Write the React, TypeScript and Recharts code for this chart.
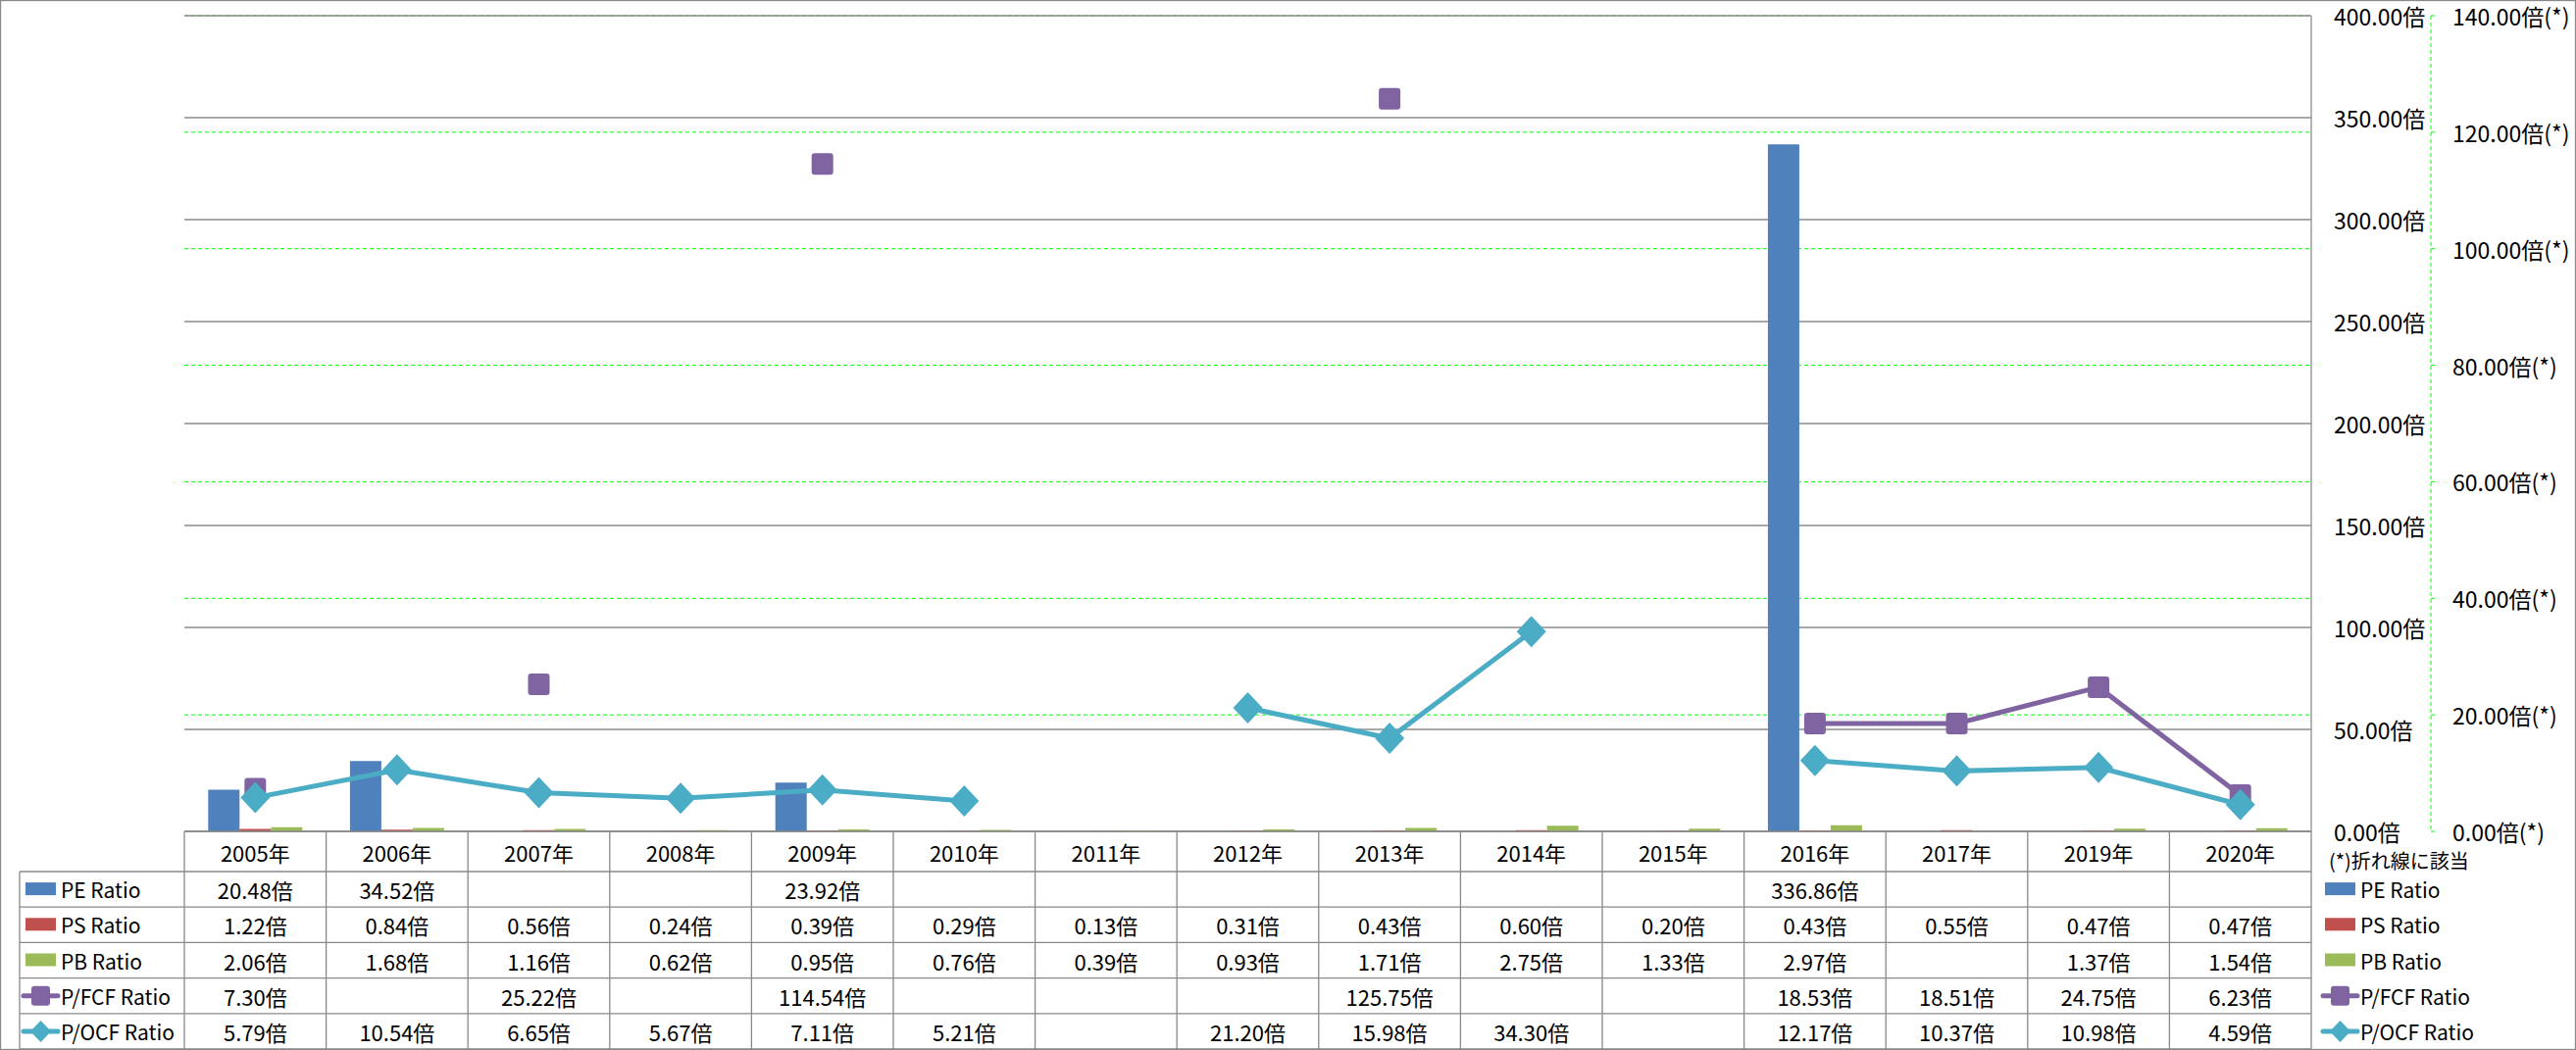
import { ComposedChart, Bar, Line, XAxis, YAxis, CartesianGrid } from "recharts";

const categories = [
  "2005年", "2006年", "2007年", "2008年", "2009年", "2010年", "2011年", "2012年",
  "2013年", "2014年", "2015年", "2016年", "2017年", "2019年", "2020年",
];
const peRatio = [20.48, 34.52, null, null, 23.92, null, null, null, null, null, null, 336.86, null, null, null];
const psRatio = [1.22, 0.84, 0.56, 0.24, 0.39, 0.29, 0.13, 0.31, 0.43, 0.6, 0.2, 0.43, 0.55, 0.47, 0.47];
const pbRatio = [2.06, 1.68, 1.16, 0.62, 0.95, 0.76, 0.39, 0.93, 1.71, 2.75, 1.33, 2.97, null, 1.37, 1.54];
const pfcfRatio = [7.3, null, 25.22, null, 114.54, null, null, null, 125.75, null, null, 18.53, 18.51, 24.75, 6.23];
const pocfRatio = [5.79, 10.54, 6.65, 5.67, 7.11, 5.21, null, 21.2, 15.98, 34.3, null, 12.17, 10.37, 10.98, 4.59];

const primaryTicks = [0, 50, 100, 150, 200, 250, 300, 350, 400];
const secondaryTicks = [0, 20, 40, 60, 80, 100, 120, 140];

const series = [
  { key: "pe", name: "PE Ratio", color: "#4F81BD", kind: "bar", values: peRatio },
  { key: "ps", name: "PS Ratio", color: "#C0504D", kind: "bar", values: psRatio },
  { key: "pb", name: "PB Ratio", color: "#9BBB59", kind: "bar", values: pbRatio },
  { key: "pfcf", name: "P/FCF Ratio", color: "#8064A2", kind: "square", values: pfcfRatio },
  { key: "pocf", name: "P/OCF Ratio", color: "#4BACC6", kind: "diamond", values: pocfRatio },
];

const data = categories.map((year, i) => ({
  year,
  pe: peRatio[i],
  ps: psRatio[i],
  pb: pbRatio[i],
  pfcf: pfcfRatio[i],
  pocf: pocfRatio[i],
}));

// layout
const W = 2627;
const H = 1071;
const PLOT_L = 188;
const PLOT_R = 2357;
const PLOT_T = 16;
const PLOT_B = 848;
const AXIS1_W = 122;
const AXIS2_W = W - PLOT_R - AXIS1_W;
const COL_W = (PLOT_R - PLOT_L) / categories.length;
const HEAD_B = 889;
const ROW_H = 36.2;
const TABLE_B = HEAD_B + ROW_H * series.length;
const TABLE_L = 20;
const BORDER = "#898989";
const FONT = "'Noto Sans CJK JP', 'Noto Sans', sans-serif";

const fmt = (v: number) => `${v.toFixed(2)}倍`;
const rowMid = (r: number) => HEAD_B + ROW_H * r + ROW_H / 2;

function TableTick(props: any) {
  const { x, payload } = props;
  let i = payload?.index;
  if (i == null) i = categories.indexOf(payload.value);
  const left = x - COL_W / 2;
  return (
    <g>
      <line x1={left} y1={PLOT_B} x2={left} y2={TABLE_B} stroke={BORDER} strokeWidth={1.3} />
      {i === categories.length - 1 && (
        <line x1={left + COL_W} y1={PLOT_B} x2={left + COL_W} y2={TABLE_B} stroke={BORDER} strokeWidth={1.3} />
      )}
      <text x={x} y={869} textAnchor="middle" dominantBaseline="central" fontSize={22} fontFamily={FONT} fill="#000">
        {payload.value}
      </text>
      {series.map((s, r) => {
        const v = s.values[i];
        if (v == null) return null;
        return (
          <text key={s.key} x={x} y={rowMid(r)} textAnchor="middle" dominantBaseline="central" fontSize={22} fontFamily={FONT} fill="#000">
            {fmt(v)}
          </text>
        );
      })}
    </g>
  );
}

function PrimaryTick(props: any) {
  const { y, payload } = props;
  return (
    <text x={PLOT_R + 23} y={y} dominantBaseline="central" fontSize={23} fontFamily={FONT} fill="#000">
      {fmt(payload.value)}
    </text>
  );
}

function SecondaryTick(props: any) {
  const { y, payload } = props;
  return (
    <text x={PLOT_R + AXIS1_W + 22} y={y} dominantBaseline="central" fontSize={23} fontFamily={FONT} fill="#000">
      {fmt(payload.value)}(*)
    </text>
  );
}

function SquareDot(props: any) {
  const { cx, cy, value } = props;
  if (value == null || cx == null || cy == null) return null;
  return <rect key={`sq-${cx}`} x={cx - 11} y={cy - 11} width={22} height={22} rx={3} fill="#8064A2" />;
}

function DiamondDot(props: any) {
  const { cx, cy, value } = props;
  if (value == null || cx == null || cy == null) return null;
  return (
    <path
      key={`dm-${cx}`}
      d={`M${cx},${cy - 16} L${cx + 15},${cy} L${cx},${cy + 16} L${cx - 15},${cy} Z`}
      fill="#4BACC6"
    />
  );
}

function LegendKey({ x, y, s }: { x: number; y: number; s: (typeof series)[number] }) {
  if (s.kind === "bar") return <rect x={x} y={y - 7} width={31} height={13} fill={s.color} />;
  return (
    <g>
      <line x1={x - 2} y1={y} x2={x + 33} y2={y} stroke={s.color} strokeWidth={5} strokeLinecap="round" />
      {s.kind === "square" ? (
        <rect x={x + 6} y={y - 10} width={19} height={20} rx={3} fill={s.color} />
      ) : (
        <path d={`M${x + 15.5},${y - 11} L${x + 26},${y} L${x + 15.5},${y + 11} L${x + 5},${y} Z`} fill={s.color} />
      )}
    </g>
  );
}

function Overlay() {
  const rowLines = series.map((_, r) => HEAD_B + ROW_H * r).concat([TABLE_B]);
  return (
    <svg width={W} height={H} style={{ position: "absolute", left: 0, top: 0, pointerEvents: "none" }}>
      <rect x={0.5} y={0.5} width={W - 1} height={H - 1} fill="none" stroke={BORDER} strokeWidth={1.3} />
      {rowLines.map((y) => (
        <line key={y} x1={TABLE_L} y1={y} x2={PLOT_R} y2={y} stroke={BORDER} strokeWidth={1.3} />
      ))}
      <line x1={TABLE_L} y1={HEAD_B} x2={TABLE_L} y2={TABLE_B} stroke={BORDER} strokeWidth={1.3} />
      {series.map((s, r) => (
        <g key={s.key}>
          <LegendKey x={26} y={rowMid(r)} s={s} />
          <text x={62} y={rowMid(r)} dominantBaseline="central" fontSize={21} fontFamily={FONT} fill="#000">
            {s.name}
          </text>
          <LegendKey x={2371} y={rowMid(r)} s={s} />
          <text x={2407} y={rowMid(r)} dominantBaseline="central" fontSize={21} fontFamily={FONT} fill="#000">
            {s.name}
          </text>
        </g>
      ))}
      <text x={2375} y={877} dominantBaseline="central" fontSize={20} fontFamily={FONT} fill="#000">
        (*)折れ線に該当
      </text>
    </svg>
  );
}

export default function App() {
  return (
    <div style={{ position: "relative", width: W, height: H, background: "#fff" }}>
      <style>{`body{margin:0}`}</style>
      <ComposedChart
        width={W}
        height={H}
        data={data}
        margin={{ top: PLOT_T, right: 0, bottom: 0, left: PLOT_L }}
        barGap={0}
        barCategoryGap="16.8%"
      >
        <CartesianGrid yAxisId="right" vertical={false} stroke="#00FF00" strokeDasharray="4 3" />
        <CartesianGrid yAxisId="left" vertical={false} stroke="#8c8c8c" strokeWidth={1.3} />
        <XAxis
          dataKey="year"
          interval={0}
          height={H - PLOT_B}
          axisLine={{ stroke: BORDER, strokeWidth: 1.3 }}
          tickLine={false}
          tick={(p: any) => <TableTick {...p} />}
        />
        <YAxis
          yAxisId="left"
          orientation="right"
          domain={[0, 400]}
          ticks={primaryTicks}
          interval={0}
          width={AXIS1_W}
          axisLine={{ stroke: "#8c8c8c", strokeWidth: 1.3 }}
          tickLine={false}
          tick={(p: any) => <PrimaryTick {...p} />}
        />
        <YAxis
          yAxisId="right"
          orientation="right"
          domain={[0, 140]}
          ticks={secondaryTicks}
          interval={0}
          width={AXIS2_W}
          axisLine={{ stroke: "#00FF00", strokeDasharray: "4 3" }}
          tickLine={{ stroke: "#00FF00" }}
          tickSize={4}
          tick={(p: any) => <SecondaryTick {...p} />}
        />
        <Bar yAxisId="left" dataKey="pe" name="PE Ratio" fill="#4F81BD" isAnimationActive={false} />
        <Bar yAxisId="left" dataKey="ps" name="PS Ratio" fill="#C0504D" isAnimationActive={false} />
        <Bar yAxisId="left" dataKey="pb" name="PB Ratio" fill="#9BBB59" isAnimationActive={false} />
        <Line
          yAxisId="right"
          dataKey="pfcf"
          name="P/FCF Ratio"
          stroke="#8064A2"
          strokeWidth={5}
          dot={(p: any) => <SquareDot key={p.index} {...p} />}
          activeDot={false}
          isAnimationActive={false}
        />
        <Line
          yAxisId="right"
          dataKey="pocf"
          name="P/OCF Ratio"
          stroke="#4BACC6"
          strokeWidth={5}
          dot={(p: any) => <DiamondDot key={p.index} {...p} />}
          activeDot={false}
          isAnimationActive={false}
        />
      </ComposedChart>
      <Overlay />
    </div>
  );
}
